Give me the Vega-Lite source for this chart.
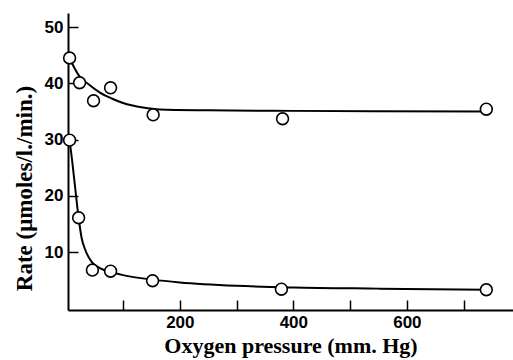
{
  "$schema": "https://vega.github.io/schema/vega-lite/v6.json",
  "autosize": "none",
  "width": 445,
  "height": 297,
  "padding": {"left": 68, "top": 13, "right": 0, "bottom": 50},
  "background": "white",
  "config": {"view": {"stroke": null}},
  "data": {"values": [
    {"series": "upper", "kind": "point", "p": 5.8, "r": 44.5},
    {"series": "upper", "kind": "point", "p": 23.4, "r": 40.1},
    {"series": "upper", "kind": "point", "p": 48, "r": 36.9},
    {"series": "upper", "kind": "point", "p": 78, "r": 39.2},
    {"series": "upper", "kind": "point", "p": 153, "r": 34.4},
    {"series": "upper", "kind": "point", "p": 381, "r": 33.7},
    {"series": "upper", "kind": "point", "p": 740, "r": 35.4},
    {"series": "lower", "kind": "point", "p": 5.8, "r": 29.9},
    {"series": "lower", "kind": "point", "p": 21.7, "r": 16.1},
    {"series": "lower", "kind": "point", "p": 46, "r": 6.8},
    {"series": "lower", "kind": "point", "p": 78, "r": 6.6},
    {"series": "lower", "kind": "point", "p": 152, "r": 4.9},
    {"series": "lower", "kind": "point", "p": 379, "r": 3.4},
    {"series": "lower", "kind": "point", "p": 740, "r": 3.3},
    {"series": "upper", "kind": "curve", "p": 5.8, "r": 44.5},
    {"series": "upper", "kind": "curve", "p": 15, "r": 42.6},
    {"series": "upper", "kind": "curve", "p": 25, "r": 41.0},
    {"series": "upper", "kind": "curve", "p": 37, "r": 40.0},
    {"series": "upper", "kind": "curve", "p": 60, "r": 38.3},
    {"series": "upper", "kind": "curve", "p": 80, "r": 37.3},
    {"series": "upper", "kind": "curve", "p": 100, "r": 36.5},
    {"series": "upper", "kind": "curve", "p": 135, "r": 35.7},
    {"series": "upper", "kind": "curve", "p": 165, "r": 35.35},
    {"series": "upper", "kind": "curve", "p": 250, "r": 35.2},
    {"series": "upper", "kind": "curve", "p": 400, "r": 35.1},
    {"series": "upper", "kind": "curve", "p": 740, "r": 35.0},
    {"series": "lower", "kind": "curve", "p": 5.8, "r": 29.9},
    {"series": "lower", "kind": "curve", "p": 10, "r": 26.5},
    {"series": "lower", "kind": "curve", "p": 15, "r": 22.0},
    {"series": "lower", "kind": "curve", "p": 21.7, "r": 16.1},
    {"series": "lower", "kind": "curve", "p": 27, "r": 12.5},
    {"series": "lower", "kind": "curve", "p": 33, "r": 10.5},
    {"series": "lower", "kind": "curve", "p": 45, "r": 8.2},
    {"series": "lower", "kind": "curve", "p": 60, "r": 7.1},
    {"series": "lower", "kind": "curve", "p": 80, "r": 6.4},
    {"series": "lower", "kind": "curve", "p": 100, "r": 5.9},
    {"series": "lower", "kind": "curve", "p": 152, "r": 5.1},
    {"series": "lower", "kind": "curve", "p": 200, "r": 4.6},
    {"series": "lower", "kind": "curve", "p": 300, "r": 4.0},
    {"series": "lower", "kind": "curve", "p": 400, "r": 3.7},
    {"series": "lower", "kind": "curve", "p": 550, "r": 3.5},
    {"series": "lower", "kind": "curve", "p": 740, "r": 3.3}
  ]},
  "encoding": {
    "x": {
      "field": "p", "type": "quantitative",
      "scale": {"domain": [3, 787], "nice": false, "zero": false},
      "axis": {
        "title": "Oxygen pressure (mm. Hg)",
        "values": [100, 200, 300, 400, 500, 600, 700],
        "labelExpr": "datum.value % 200 == 0 ? datum.label : ''",
        "grid": false,
        "tickSize": -10, "tickColor": "black", "tickWidth": 1.5,
        "domainColor": "black", "domainWidth": 2,
        "labelFont": "Liberation Sans", "labelFontWeight": "bold", "labelFontSize": 17, "labelColor": "black",
        "labelPadding": 14,
        "titleFont": "Liberation Serif", "titleFontWeight": "bold", "titleFontSize": 22, "titleColor": "black",
        "titlePadding": 5
      }
    },
    "y": {
      "field": "r", "type": "quantitative",
      "scale": {"domain": [-0.3, 52.5], "nice": false, "zero": false},
      "axis": {
        "title": "Rate (μmoles/l./min.)",
        "values": [10, 20, 30, 40, 50],
        "grid": false,
        "tickSize": -10, "tickColor": "black", "tickWidth": 1.5,
        "domainColor": "black", "domainWidth": 2,
        "labelFont": "Liberation Sans", "labelFontWeight": "bold", "labelFontSize": 17, "labelColor": "black",
        "labelPadding": 15,
        "titleFont": "Liberation Serif", "titleFontWeight": "bold", "titleFontSize": 23, "titleColor": "black",
        "titleBaseline": "alphabetic",
        "titleX": -37,
        "titleY": 175
      }
    }
  },
  "layer": [
    {
      "transform": [{"filter": "datum.kind == 'curve'"}],
      "mark": {"type": "line", "interpolate": "monotone", "color": "black", "strokeWidth": 2},
      "encoding": {"detail": {"field": "series"}}
    },
    {
      "transform": [{"filter": "datum.kind == 'point'"}],
      "mark": {"type": "point", "shape": "circle", "size": 140, "filled": true, "fill": "white", "stroke": "black", "strokeWidth": 1.6, "opacity": 1}
    }
  ]
}
